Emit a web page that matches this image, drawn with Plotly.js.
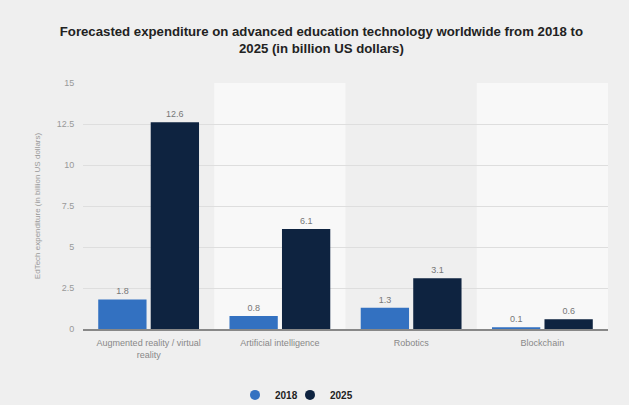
<!DOCTYPE html>
<html>
<head>
<meta charset="utf-8">
<script src="https://cdn.plot.ly/plotly-3.0.1.min.js"></script>
<style>html,body{margin:0;padding:0;background:#efefef;}#chart{width:629px;height:405px;}</style>
</head>
<body>
<div id="chart"></div>
<script>
const categories = ["Augmented reality / virtual<br>reality", "Artificial intelligence", "Robotics", "Blockchain"];
const years = ["2018", "2025"];
const values2018 = [1.8, 0.8, 1.3, 0.1];
const values2025 = [12.6, 6.1, 3.1, 0.6];
const yTicks = [0, 2.5, 5, 7.5, 10, 12.5, 15];
const yTickLabels = ["0", "2.5", "5", "7.5", "10", "12.5", "15"];

const colors = {"2018": "#3371c1", "2025": "#0e2340"};
const series = {"2018": values2018, "2025": values2025};
const legendIds = {"2018": "legend", "2025": "legend2"};

const traces = years.map(yr => ({
  type: "bar",
  name: yr,
  x: categories,
  y: series[yr],
  marker: {color: colors[yr]},
  text: series[yr].map(v => String(v)),
  textposition: "outside",
  textfont: {family: "Liberation Sans, Arial, sans-serif", size: 9, color: "#777"},
  cliponaxis: false,
  showlegend: false,
  hoverinfo: "skip"
}));

years.forEach(yr => traces.push({
  type: "scatter",
  mode: "markers",
  name: yr,
  x: [null], y: [null],
  marker: {color: colors[yr], size: 10, symbol: "circle"},
  showlegend: true,
  legend: legendIds[yr]
}));

const shapes = categories.map((c, i) => i % 2 === 1 ? {
  type: "rect", xref: "x", yref: "paper",
  x0: i - 0.5, x1: i + 0.5, y0: 0, y1: 1,
  fillcolor: "#f8f8f8", line: {width: 0}, layer: "below"
} : null).filter(s => s);

const legendBase = {
  orientation: "h", xref: "container", xanchor: "left",
  yref: "container", y: 0.025, yanchor: "middle",
  font: {size: 10, color: "#222", family: "Liberation Sans, Arial, sans-serif", weight: "bold"},
  itemwidth: 30, bgcolor: "rgba(0,0,0,0)"
};

const layout = {
  width: 629, height: 405,
  paper_bgcolor: "#efefef",
  plot_bgcolor: "rgba(0,0,0,0)",
  margin: {l: 83, r: 21, t: 83, b: 76, autoexpand: false},
  font: {family: "Liberation Sans, Arial, sans-serif", color: "#888"},
  title: {
    text: "<b>Forecasted expenditure on advanced education technology worldwide from 2018 to<br>2025 (in billion US dollars)</b>",
    font: {family: "Liberation Sans, Arial, sans-serif", size: 13.2, color: "#222"},
    x: 0.511, xanchor: "center", yref: "container", y: 0.912, yanchor: "middle"
  },
  barmode: "group",
  bargap: 0.2,
  bargroupgap: 0.08,
  shapes: shapes,
  xaxis: {
    type: "category",
    tickfont: {size: 9, color: "#888"},
    showgrid: false,
    showline: true, linecolor: "#888", linewidth: 1.5,
    ticks: "outside", ticklen: 5, tickcolor: "rgba(0,0,0,0)",
    fixedrange: true, automargin: false
  },
  yaxis: {
    range: [0, 15],
    tickvals: yTicks, ticktext: yTickLabels,
    tickfont: {size: 9, color: "#999"},
    gridcolor: "#dedede", gridwidth: 1,
    zeroline: false, showline: false,
    ticks: "outside", ticklen: 6, tickcolor: "rgba(0,0,0,0)",
    title: {text: "EdTech expenditure (in billion US dollars)", font: {size: 8, color: "#999"}, standoff: 14},
    fixedrange: true, automargin: false
  },
  legend: Object.assign({}, legendBase, {x: 235 / 629}),
  legend2: Object.assign({}, legendBase, {x: 290 / 629})
};

Plotly.newPlot("chart", traces, layout, {displayModeBar: false, staticPlot: true});
</script>
</body>
</html>
